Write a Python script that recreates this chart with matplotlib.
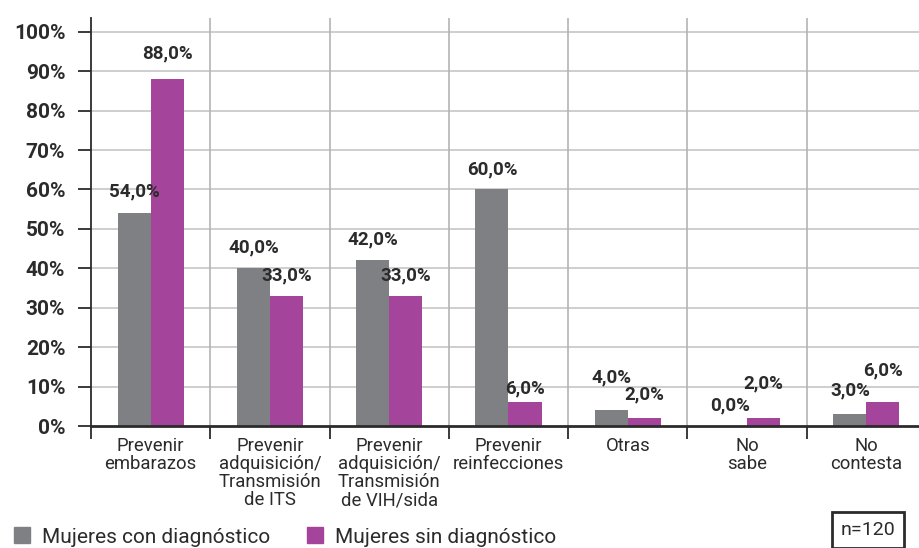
import numpy as np
import matplotlib.pyplot as plt
from matplotlib.patches import Patch

plt.rcParams['font.family'] = ['Roboto', 'DejaVu Sans']

categories = ['Prevenir\nembarazos',
              'Prevenir\nadquisición/\nTransmisión\nde ITS',
              'Prevenir\nadquisición/\nTransmisión\nde VIH/sida',
              'Prevenir\nreinfecciones',
              'Otras',
              'No\nsabe',
              'No\ncontesta']
con_diag = [54.0, 40.0, 42.0, 60.0, 4.0, 0.0, 3.0]
sin_diag = [88.0, 33.0, 33.0, 6.0, 2.0, 2.0, 6.0]
series_names = ['Mujeres con diagnóstico', 'Mujeres sin diagnóstico']
n_text = 'n=120'

# how far above each bar the value label sits (in % units)
lift_con = [5.4, 5.4, 5.2, 5.0, 8.4, 5.3, 6.1]
lift_sin = [6.4, 5.1, 5.1, 3.6, 5.9, 8.9, 8.2]

gray = '#7f8083'
purple = '#a4449a'
dark = '#2b2b2b'

fig = plt.figure(figsize=(9.2, 5.48), dpi=100)
ax = fig.add_axes([91 / 920, 122 / 548, 835 / 920, 408 / 548])

x = np.arange(len(categories))
w = 0.277
ax.bar(x - w / 2, con_diag, w, color=gray, zorder=3)
ax.bar(x + w / 2, sin_diag, w, color=purple, zorder=3)

for i in range(len(categories)):
    ax.text(x[i] - w / 2, con_diag[i] + lift_con[i], f'{con_diag[i]:.1f}%'.replace('.', ','),
            ha='center', va='center', fontsize=13.5, fontweight='bold', color=dark, zorder=4)
    ax.text(x[i] + w / 2, sin_diag[i] + lift_sin[i], f'{sin_diag[i]:.1f}%'.replace('.', ','),
            ha='center', va='center', fontsize=13.5, fontweight='bold', color=dark, zorder=4)

ax.set_xlim(-0.5, len(categories) - 0.5)
ax.set_ylim(0, 103.5)

yt = np.arange(0, 101, 10)
ax.set_yticks(yt)
ax.set_yticklabels([f'{v}%' for v in yt], fontsize=15, fontweight='bold', color=dark)
for v in yt[1:]:
    ax.axhline(v, color='#cacaca', lw=1.3, zorder=1)

bounds = np.arange(-0.5, len(categories), 1.0)
for b in bounds[1:]:
    ax.axvline(b, color='#b4b4b6', lw=1.2, zorder=1)

ax.set_xticks(bounds)
ax.set_xticklabels([])
ax.set_xticks(x, minor=True)
ax.set_xticklabels(categories, minor=True, fontsize=13.3, color=dark, linespacing=1.0)
ax.tick_params(axis='x', which='major', length=9, width=1.3, color=dark, direction='out')
ax.tick_params(axis='x', which='minor', length=0, pad=8)
ax.tick_params(axis='y', length=9.5, width=1.3, color=dark, pad=9)

for s in ['top', 'right']:
    ax.spines[s].set_visible(False)
ax.spines['left'].set_color(dark)
ax.spines['left'].set_linewidth(1.3)
ax.spines['bottom'].set_color(dark)
ax.spines['bottom'].set_linewidth(2)
ax.spines['bottom'].set_zorder(5)

handles = [Patch(color=gray), Patch(color=purple)]
fig.legend(handles, series_names, loc='center left', bbox_to_anchor=(14 / 920, 1 - 537 / 548),
           ncol=2, frameon=False, fontsize=15, handlelength=0.77, handleheight=0.77,
           handletextpad=0.58, columnspacing=1.75, labelcolor=dark,
           borderaxespad=0, borderpad=0)

fig.text(868 / 920, 1 - 530 / 548, n_text, ha='center', va='center', fontsize=14, color=dark,
         bbox=dict(boxstyle='square,pad=0.45', fc='white', ec=dark, lw=2))

fig.savefig('out.png', dpi=100)
